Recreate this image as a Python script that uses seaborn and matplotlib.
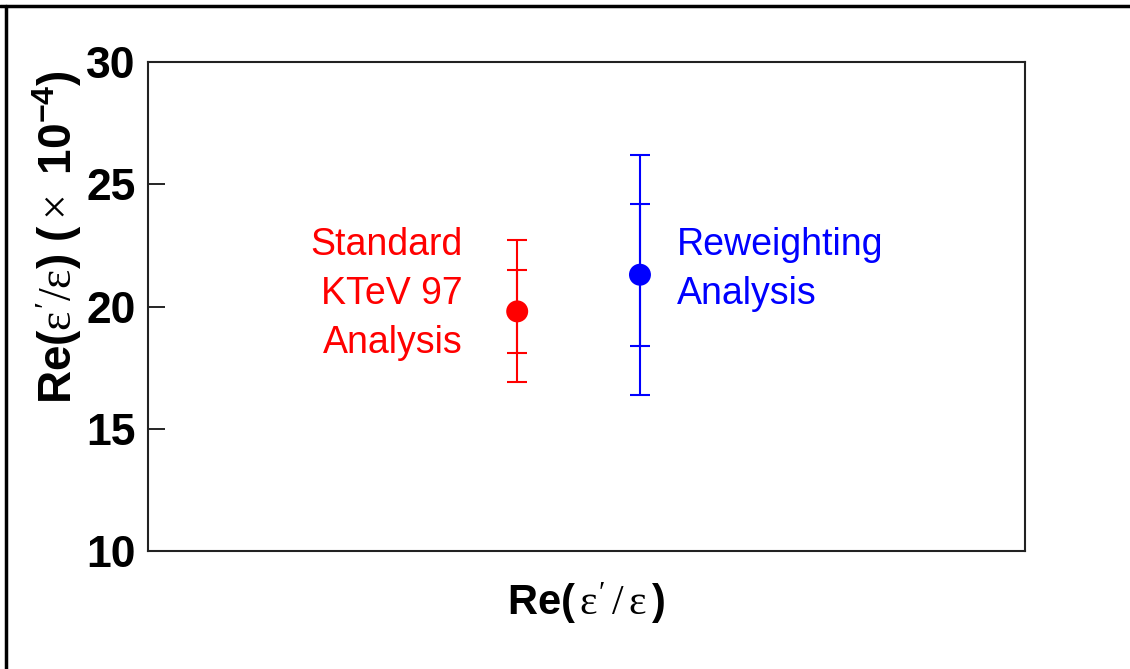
import numpy as np
import pandas as pd
import matplotlib
matplotlib.use("Agg")
import matplotlib.pyplot as plt
from matplotlib.lines import Line2D
import seaborn as sns

# data (units of 1e-4)
analyses = ["Standard KTeV 97", "Reweighting"]
x_pos = [0.421, 0.561]
central = [19.8, 21.3]
err_stat = [1.7, 2.9]
err_total = [2.9, 4.9]
colors = ["#ff0000", "#0000ff"]

y_ticks = [10, 15, 20, 25, 30]

sns.set_style("white")
plt.rcParams['font.family'] = ['Liberation Sans', 'DejaVu Sans']
plt.rcParams['mathtext.fontset'] = 'custom'
plt.rcParams['mathtext.rm'] = 'Liberation Serif'
plt.rcParams['mathtext.it'] = 'Liberation Serif'
plt.rcParams['mathtext.bf'] = 'Liberation Sans:bold'
plt.rcParams['text.color'] = 'black'
plt.rcParams['axes.labelcolor'] = 'black'
plt.rcParams['ytick.color'] = 'black'

df = pd.DataFrame({"analysis": analyses, "x": x_pos, "y": central})

fig = plt.figure(figsize=(11.3, 6.69), dpi=100)
ax = fig.add_axes([0.131, 0.1764, 0.776, 0.7309])

for i in range(len(analyses)):
    # total error
    ax.errorbar(x_pos[i], central[i], yerr=err_total[i], fmt="none",
                ecolor=colors[i], elinewidth=1.5, capsize=7.5, capthick=1.5)
    # statistical error
    ax.errorbar(x_pos[i], central[i], yerr=err_stat[i], fmt="none",
                ecolor=colors[i], elinewidth=1.5, capsize=7.5, capthick=1.5)

sns.scatterplot(data=df, x="x", y="y", hue="analysis", palette=colors,
                s=250, edgecolor="none", legend=False, ax=ax, zorder=5)

# labels next to the points
ax.text(0.359, 22.52, "Standard", color="red", fontsize=27, ha="right", va="center")
ax.text(0.359, 20.51, "KTeV 97", color="red", fontsize=27, ha="right", va="center")
ax.text(0.359, 18.50, "Analysis", color="red", fontsize=27, ha="right", va="center")
ax.text(0.603, 22.52, "Reweighting", color="blue", fontsize=27, ha="left", va="center")
ax.text(0.603, 20.51, "Analysis", color="blue", fontsize=27, ha="left", va="center")

ax.set_xlim(0, 1)
ax.set_ylim(10, 30)
ax.set_xticks([])
ax.set_yticks(y_ticks)
ax.set_yticklabels([str(t) for t in y_ticks], fontsize=32, fontweight="bold")
ax.tick_params(axis="y", direction="in", length=12, width=1.2, pad=9, left=True, right=False)
for sp in ax.spines.values():
    sp.set_linewidth(1.5)
    sp.set_color("#222222")

ax.set_xlabel(r"$\mathbf{Re(}\,\varepsilon^{\prime}\,/\,\varepsilon\,\mathbf{)}$", fontsize=30)
ax.xaxis.set_label_coords(0.5, -0.06)
ax.set_ylabel(r"$\mathbf{Re(}\varepsilon^{\prime}/\varepsilon\mathbf{)\ (}\times\mathbf{\ 10^{-4})}$", fontsize=33)
ax.yaxis.set_label_coords(-0.073, 0.642)

# page frame lines (top and left)
fig.add_artist(Line2D([0, 1], [0.991, 0.991], transform=fig.transFigure, color="black", linewidth=2.5))
fig.add_artist(Line2D([0.0053, 0.0053], [0, 0.991], transform=fig.transFigure, color="black", linewidth=2.5))

fig.savefig("out.png", dpi=100)
